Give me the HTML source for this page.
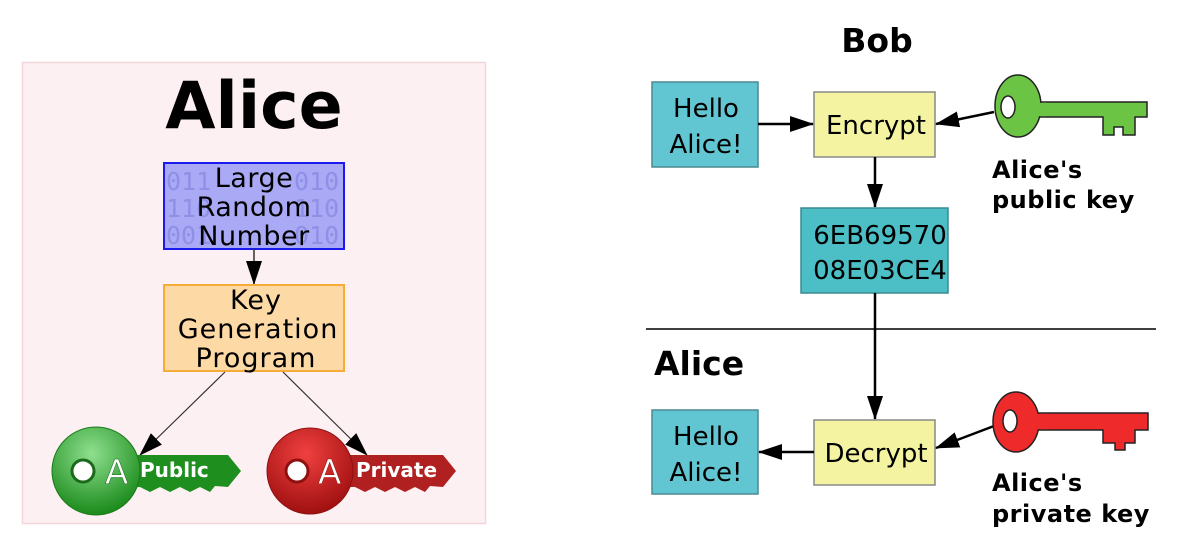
<!DOCTYPE html>
<html><head><meta charset="utf-8"><style>
html,body{margin:0;padding:0;background:#fff;}
svg{display:block;font-family:"DejaVu Sans","Liberation Sans",sans-serif;}
</style></head><body>
<svg width="1191" height="556" viewBox="0 0 1191 556" xmlns="http://www.w3.org/2000/svg">
<defs>
<marker id="big" markerWidth="24" markerHeight="16" refX="23" refY="8" orient="auto" markerUnits="userSpaceOnUse"><path d="M0,0 L24,8 L0,16z" fill="#000"/></marker>
<radialGradient id="gg" cx="0.45" cy="0.3" r="0.7"><stop offset="0" stop-color="#8fe08f"/><stop offset="1" stop-color="#1a8a1a"/></radialGradient>
<radialGradient id="rg" cx="0.45" cy="0.3" r="0.7"><stop offset="0" stop-color="#f04040"/><stop offset="1" stop-color="#a01010"/></radialGradient>
</defs>
<!-- left panel -->
<rect x="22.5" y="62.5" width="463" height="461" fill="#fdf0f2" stroke="#f3d6da" stroke-width="1.5"/>
<text x="254" y="128" text-anchor="middle" font-size="65" font-weight="bold">Alice</text>
<rect x="164" y="163" width="180" height="86" fill="#a9a9f6" stroke="#1a1aee" stroke-width="2"/>
<g font-size="25" fill="#8f8fe6" font-family="DejaVu Sans Mono,monospace">
<text x="166" y="190">011</text><text x="294" y="190">010</text>
<text x="166" y="217">110</text><text x="294" y="217">110</text>
<text x="166" y="244">001</text><text x="294" y="244">010</text>
</g>
<g font-size="27" text-anchor="middle" fill="#000" letter-spacing="0.5">
<text x="254" y="187">Large</text><text x="254" y="216">Random</text><text x="254" y="245">Number</text>
</g>
<line x1="254" y1="249" x2="254" y2="284" stroke="#333" stroke-width="1.5" marker-end="url(#big)"/>
<rect x="164" y="285" width="180" height="86" fill="#fdd9a6" stroke="#f5ad38" stroke-width="2"/>
<g font-size="27" text-anchor="middle" fill="#000" letter-spacing="1">
<text x="256" y="309">Key</text><text x="258" y="338">Generation</text><text x="256" y="367">Program</text>
</g>
<line x1="225" y1="372" x2="140" y2="455" stroke="#333" stroke-width="1.2" marker-end="url(#big)"/>
<line x1="283" y1="372" x2="367" y2="455" stroke="#333" stroke-width="1.2" marker-end="url(#big)"/>
<!-- public key -->
<path d="M125,455 L228,455 L241,471 L228,487 L215,486 L210,492 L200,487 L190,492 L180,487 L170,492 L160,487 L150,492 L140,487 L125,487z" fill="#1e8f1e"/>
<circle cx="96" cy="471" r="44" fill="url(#gg)" stroke="#1a7a1a"/>
<circle cx="83" cy="471" r="11" fill="#fff" stroke="#1a6a1a" stroke-width="3"/>
<text x="105" y="484" font-size="34" fill="#fff" stroke="#1a6a1a" stroke-width="0.5">A</text>
<text x="140" y="477" font-size="20" font-weight="bold" fill="#fff">Public</text>
<!-- private key -->
<path d="M340,455 L443,455 L456,471 L443,487 L430,486 L425,492 L415,487 L405,492 L395,487 L385,492 L375,487 L365,492 L355,487 L340,487z" fill="#b02020"/>
<circle cx="310" cy="471" r="43" fill="url(#rg)" stroke="#901010"/>
<circle cx="297" cy="471" r="11" fill="#fff" stroke="#901010" stroke-width="3"/>
<text x="318" y="484" font-size="34" fill="#fff" stroke="#901010" stroke-width="0.5">A</text>
<text x="356" y="477" font-size="20" font-weight="bold" fill="#fff">Private</text>

<!-- right -->
<text x="877" y="52" text-anchor="middle" font-size="33" font-weight="bold">Bob</text>
<rect x="652" y="82" width="106" height="85" fill="#62c6d2" stroke="#4a8a90" stroke-width="1.5"/>
<text x="706" y="117" text-anchor="middle" font-size="26">Hello</text>
<text x="706" y="153" text-anchor="middle" font-size="26">Alice!</text>
<rect x="814" y="92" width="121" height="65" fill="#f3f3a2" stroke="#888" stroke-width="1.5"/>
<text x="876" y="134" text-anchor="middle" font-size="26">Encrypt</text>
<line x1="758" y1="124" x2="813" y2="124" stroke="#000" stroke-width="2.5" marker-end="url(#big)"/>
<line x1="875" y1="157" x2="875" y2="207" stroke="#000" stroke-width="2.5" marker-end="url(#big)"/>
<rect x="801" y="208" width="147" height="85" fill="#4cbfc6" stroke="#3a8a90" stroke-width="1.5"/>
<text x="880" y="244" text-anchor="middle" font-size="26">6EB69570</text>
<text x="880" y="279" text-anchor="middle" font-size="26">08E03CE4</text>
<line x1="646" y1="329" x2="1156" y2="329" stroke="#000" stroke-width="1.5"/>
<text x="654" y="375" font-size="33" font-weight="bold">Alice</text>
<line x1="875" y1="293" x2="875" y2="419" stroke="#000" stroke-width="2.5" marker-end="url(#big)"/>
<rect x="652" y="410" width="106" height="84" fill="#62c6d2" stroke="#4a8a90" stroke-width="1.5"/>
<text x="706" y="445" text-anchor="middle" font-size="26">Hello</text>
<text x="706" y="481" text-anchor="middle" font-size="26">Alice!</text>
<rect x="814" y="420" width="121" height="65" fill="#f3f3a2" stroke="#888" stroke-width="1.5"/>
<text x="876" y="462" text-anchor="middle" font-size="26">Decrypt</text>
<line x1="814" y1="452" x2="759" y2="452" stroke="#000" stroke-width="2.5" marker-end="url(#big)"/>
<!-- green key -->
<line x1="994" y1="112" x2="936" y2="124" stroke="#000" stroke-width="2.5" marker-end="url(#big)"/>
<path d="M1036,102 L1147,102 L1147,117 L1135,117 L1135,135 L1123,135 L1123,127 L1114,127 L1114,135 L1103,135 L1103,117 L1036,117z" fill="#6cc444" stroke="#222" stroke-width="1.5"/>
<ellipse cx="1018" cy="106" rx="23" ry="31" fill="#6cc444" stroke="#222" stroke-width="1.5"/>
<path d="M1036,103 L1046,102.8 L1046,116.2 L1036,116z" fill="#6cc444"/>
<ellipse cx="1008" cy="107" rx="7" ry="11" fill="#fff" stroke="#222" stroke-width="1.5"/>
<text x="992" y="178" font-size="24" font-weight="bold" letter-spacing="0.5">Alice's</text>
<text x="992" y="208" font-size="24" font-weight="bold" letter-spacing="0.5">public key</text>
<!-- red key -->
<line x1="994" y1="426" x2="936" y2="448" stroke="#000" stroke-width="2.5" marker-end="url(#big)"/>
<path d="M1036,413 L1148,413 L1148,430 L1135,430 L1135,443 L1125,443 L1125,450 L1115,450 L1115,443 L1103,443 L1103,430 L1036,430z" fill="#ee2a2a" stroke="#222" stroke-width="1.5"/>
<ellipse cx="1016" cy="422" rx="23" ry="30" fill="#ee2a2a" stroke="#222" stroke-width="1.5"/>
<path d="M1034,414 L1046,413.8 L1046,429.2 L1034,429z" fill="#ee2a2a"/>
<ellipse cx="1010" cy="421" rx="7" ry="11" fill="#fff" stroke="#222" stroke-width="1.5"/>
<text x="992" y="491" font-size="24" font-weight="bold" letter-spacing="0.5">Alice's</text>
<text x="992" y="522" font-size="24" font-weight="bold" letter-spacing="0.5">private key</text>
</svg>
</body></html>
